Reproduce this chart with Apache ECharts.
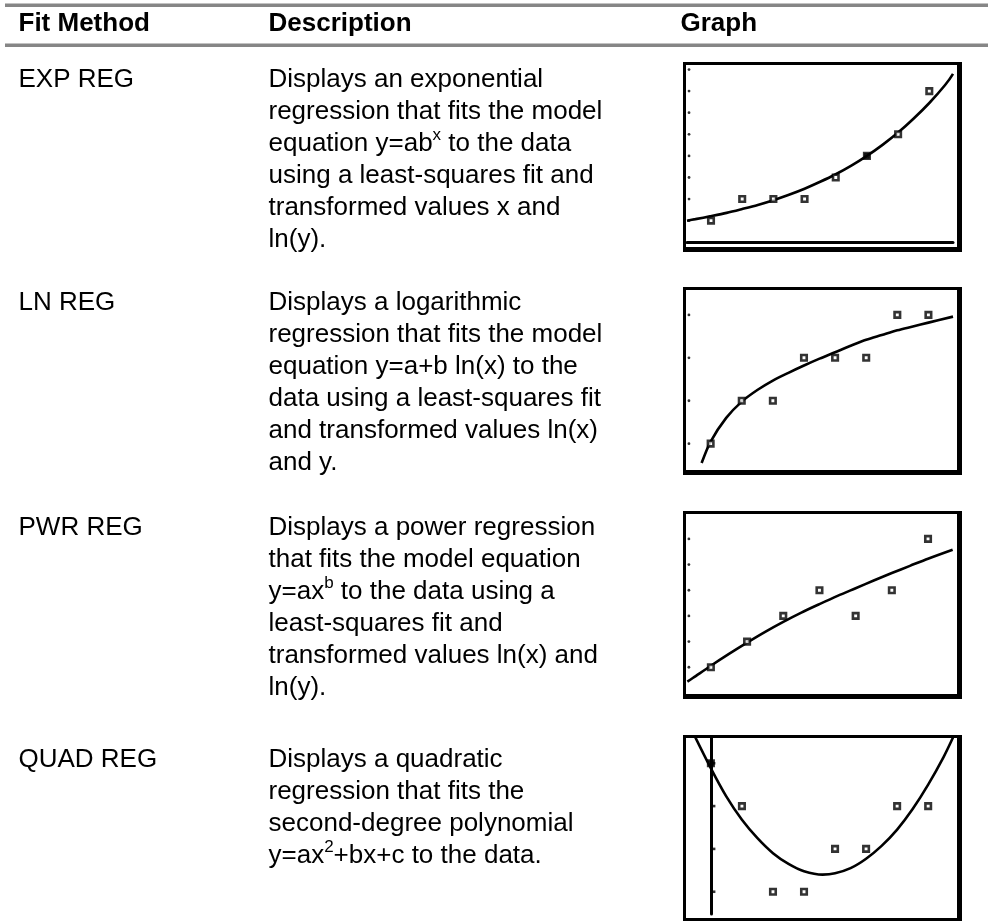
<!DOCTYPE html>
<html>
<head>
<meta charset="utf-8">
<title>Fit Method table</title>
<script src="https://cdn.jsdelivr.net/npm/echarts@6/dist/echarts.min.js"></script>
<style>
  html, body { margin: 0; padding: 0; background: #fff; overflow: hidden; }
  #main { width: 988px; height: 921px; }
</style>
</head>
<body>
<div id="main"></div>
<script>
// table text
var headerLabels = ['Fit Method', 'Description', 'Graph'];
var methodNames = ['EXP REG', 'LN REG', 'PWR REG', 'QUAD REG'];
var descExp = ['Displays an exponential', 'regression that fits the model', 'equation y=ab{sup|x} to the data',
               'using a least-squares fit and', 'transformed values x and', 'ln(y).'];
var descLn = ['Displays a logarithmic', 'regression that fits the model', 'equation y=a+b ln(x) to the',
              'data using a least-squares fit', 'and transformed values ln(x)', 'and y.'];
var descPwr = ['Displays a power regression', 'that fits the model equation', 'y=ax{sup|b} to the data using a',
               'least-squares fit and', 'transformed values ln(x) and', 'ln(y).'];
var descQuad = ['Displays a quadratic', 'regression that fits the', 'second-degree polynomial',
                'y=ax{sup|2}+bx+c to the data.'];

// EXP REG screen
var expX = [1, 2, 3, 4, 5, 6, 7, 8];
var expY = [1, 2, 2, 2, 3, 4, 5, 7];
var expFilled = 5;
var expFitX = [0.23, 0.5, 1, 1.5, 2, 2.5, 3, 3.5, 4, 4.5, 5, 5.5, 6, 6.5, 7, 7.5, 8, 8.5, 8.76];
var expFitY = [1.0, 1.07, 1.21, 1.36, 1.54, 1.73, 1.95, 2.2, 2.48, 2.8, 3.15, 3.55, 4.0, 4.51, 5.08, 5.73, 6.45, 7.27, 7.8];
var expTickY = [1, 2, 3, 4, 5, 6, 7, 8];
var expWindow = [0.23, 8.76, -0.22, 8.21];

// LN REG screen
var lnX = [1, 2, 3, 4, 5, 6, 7, 8];
var lnY = [1, 2, 2, 3, 3, 3, 4, 4];
var lnFitX = [0.71, 1, 1.5, 2, 2.5, 3, 3.5, 4, 4.5, 5, 5.5, 6, 6.5, 7, 7.5, 8, 8.79];
var lnFitY = [0.55, 1.05, 1.6, 1.98, 2.25, 2.47, 2.65, 2.82, 2.98, 3.13, 3.28, 3.42, 3.53, 3.64, 3.73, 3.82, 3.96];
var lnTickY = [1, 2, 3, 4];
var lnWindow = [0.24, 8.79, 0.34, 4.58];

// PWR REG screen
var pwrX = [1, 2, 3, 4, 5, 6, 7];
var pwrY = [1, 2, 3, 4, 3, 4, 6];
var pwrFitX = [0.35, 0.5, 1, 1.5, 2, 2.5, 3, 3.5, 4, 4.5, 5, 5.5, 6, 6.5, 7, 7.68];
var pwrFitY = [0.44, 0.58, 1.06, 1.52, 1.96, 2.38, 2.77, 3.13, 3.46, 3.78, 4.08, 4.38, 4.67, 4.95, 5.23, 5.58];
var pwrTickY = [1, 2, 3, 4, 5, 6];
var pwrWindow = [0.34, 7.69, -0.12, 6.97];

// QUAD REG screen
var quadX = [0, 1, 2, 3, 4, 5, 6, 7];
var quadY = [4, 3, 1, 1, 2, 2, 3, 3];
var quadFilled = 0;
var quadFitX = [-0.6, 0, 0.5, 1, 1.5, 2, 2.5, 3, 3.6, 4, 4.5, 5, 5.5, 6, 6.5, 7, 7.5, 7.8];
var quadFitY = [4.75, 3.88, 3.22, 2.68, 2.25, 1.9, 1.65, 1.48, 1.4, 1.43, 1.55, 1.77, 2.07, 2.45, 2.93, 3.5, 4.15, 4.6];
var quadTickY = [1, 2, 3, 4];
var quadWindow = [-0.77, 7.8, 0.48, 4.59];

// layout
var ink = '#000';
var fontReg = '26px "Liberation Sans", Arial, sans-serif';
var fontBold = 'bold 26px "Liberation Sans", Arial, sans-serif';
var fontSup = '17px "Liberation Sans", Arial, sans-serif';
var lineH = 32;
var headTop = 8.3;
var rowTops = [63.6, 286.6, 511.6, 743.6];
var colX = [18.5, 268.5, 680.5];
var boxes = [[683, 62, 962, 252], [683, 287, 962, 475], [683, 511, 962, 699], [683, 735, 962, 923]];
var screens = [
  { left: 687, top: 65, width: 266, height: 182 },
  { left: 687, top: 290, width: 266, height: 182 },
  { left: 687, top: 514, width: 266, height: 182 },
  { left: 687, top: 738, width: 266, height: 176 }
];

var chart = echarts.init(document.getElementById('main'));

var elements = [];
// grey rules of the table head
elements.push({ type: 'rect', silent: true, shape: { x: 5, y: 3.5, width: 983, height: 3.5 }, style: { fill: '#868686' } });
elements.push({ type: 'rect', silent: true, shape: { x: 5, y: 43.5, width: 983, height: 3.5 }, style: { fill: '#868686' } });

function textEl(x, y, str, font) {
  return {
    type: 'text', x: x, y: y, silent: true,
    style: {
      text: str, font: font, fill: ink, lineHeight: lineH, align: 'left', verticalAlign: 'top',
      rich: { sup: { font: fontSup, fill: ink, height: 16, verticalAlign: 'top' } }
    }
  };
}

headerLabels.forEach(function (h, i) {
  elements.push(textEl(colX[i], headTop, h, fontBold));
});
var descs = [descExp, descLn, descPwr, descQuad];
methodNames.forEach(function (m, i) {
  elements.push(textEl(colX[0], rowTops[i], m, fontReg));
  elements.push(textEl(colX[1], rowTops[i], descs[i].join('\n'), fontReg));
});

// calculator screen frames (thin left/top, heavier right/bottom)
boxes.forEach(function (b) {
  var w = b[2] - b[0], h = b[3] - b[1];
  elements.push({ type: 'rect', silent: true, shape: { x: b[0], y: b[1], width: 3, height: h }, style: { fill: ink } });
  elements.push({ type: 'rect', silent: true, shape: { x: b[0], y: b[1], width: w, height: 3 }, style: { fill: ink } });
  elements.push({ type: 'rect', silent: true, shape: { x: b[2] - 5, y: b[1], width: 5, height: h }, style: { fill: ink } });
  elements.push({ type: 'rect', silent: true, shape: { x: b[0], y: b[3] - 5, width: w, height: 5 }, style: { fill: ink } });
});

var xAxes = [], yAxes = [], series = [];

function addScreen(i, win, showX, showY) {
  xAxes.push({
    gridIndex: i, type: 'value', min: win[0], max: win[1],
    axisLabel: { show: false }, axisTick: { show: false }, splitLine: { show: false },
    axisLine: { show: showX, onZero: true, lineStyle: { color: ink, width: 3 } }
  });
  yAxes.push({
    gridIndex: i, type: 'value', min: win[2], max: win[3],
    axisLabel: { show: false }, axisTick: { show: false }, splitLine: { show: false },
    axisLine: { show: showY, onZero: true, lineStyle: { color: ink, width: 3 } }
  });
}

function pairs(xs, ys) {
  return xs.map(function (x, k) { return [x, ys[k]]; });
}

function addGraph(i, xs, ys, filled, fitX, fitY, tickX, tickY, axisTicks) {
  series.push({
    type: 'line', xAxisIndex: i, yAxisIndex: i, silent: true, z: 2,
    data: pairs(fitX, fitY), smooth: 0.3, showSymbol: false,
    lineStyle: { color: ink, width: 2.6 }
  });
  series.push({
    type: 'scatter', xAxisIndex: i, yAxisIndex: i, silent: true, z: 4,
    symbol: 'rect', symbolSize: 5.5,
    itemStyle: { color: '#fff', borderColor: ink, borderWidth: 2.6 },
    data: xs.map(function (x, k) {
      var d = { value: [x, ys[k]] };
      if (k === filled) { d.itemStyle = { color: ink }; }
      return d;
    })
  });
  series.push({
    type: 'scatter', xAxisIndex: i, yAxisIndex: i, silent: true, z: 3,
    symbol: axisTicks ? 'rect' : 'circle',
    symbolSize: axisTicks ? [4, 2.6] : 2.8,
    symbolOffset: axisTicks ? [2.5, 0] : [0, 0],
    itemStyle: { color: ink },
    data: tickY.map(function (y) { return [tickX, y]; })
  });
}

addScreen(0, expWindow, true, false);
addScreen(1, lnWindow, false, false);
addScreen(2, pwrWindow, false, false);
addScreen(3, quadWindow, false, true);

addGraph(0, expX, expY, expFilled, expFitX, expFitY, 0.295, expTickY, false);
addGraph(1, lnX, lnY, -1, lnFitX, lnFitY, 0.302, lnTickY, false);
addGraph(2, pwrX, pwrY, -1, pwrFitX, pwrFitY, 0.392, pwrTickY, false);
addGraph(3, quadX, quadY, quadFilled, quadFitX, quadFitY, 0, quadTickY, true);

chart.setOption({
  animation: false,
  backgroundColor: '#fff',
  grid: screens.map(function (s) {
    return { left: s.left, top: s.top, width: s.width, height: s.height, containLabel: false };
  }),
  xAxis: xAxes,
  yAxis: yAxes,
  series: series,
  graphic: { elements: elements }
});
</script>
</body>
</html>
